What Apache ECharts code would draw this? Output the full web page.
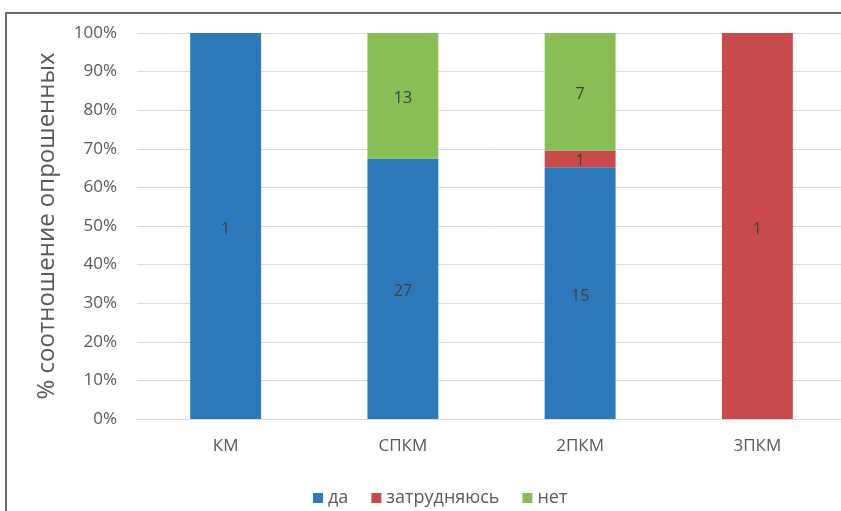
<!DOCTYPE html>
<html>
<head>
<meta charset="utf-8">
<script src="https://cdn.jsdelivr.net/npm/echarts@6/dist/echarts.min.js"></script>
<style>
  html, body { margin: 0; padding: 0; background: #fff; overflow: hidden; }
  #chart { width: 860px; height: 511px; }
</style>
</head>
<body>
<div id="chart"></div>
<script>
// Survey answers per group (respondent counts)
const categories = ['КМ', 'СПКМ', '2ПКМ', '3ПКМ'];
const seriesNames = ['да', 'затрудняюсь', 'нет'];
const countsYes = [1, 27, 15, 0];
const countsUnsure = [0, 0, 1, 1];
const countsNo = [0, 13, 7, 0];
const yTicks = [0, 10, 20, 30, 40, 50, 60, 70, 80, 90, 100];

const colors = ['#2E78BC', '#C84A4A', '#88BE55'];
const allCounts = [countsYes, countsUnsure, countsNo];
const totals = categories.map((_, i) => allCounts.reduce((s, arr) => s + arr[i], 0));

const font = '"Open Sans", "Noto Sans", sans-serif';

const series = seriesNames.map((name, k) => ({
  name,
  type: 'bar',
  stack: 'share',
  barWidth: '40%',
  itemStyle: { color: colors[k] },
  label: {
    show: true,
    position: 'inside',
    offset: [0, 3],
    color: '#404040',
    fontFamily: font,
    fontSize: 16,
    formatter: p => (allCounts[k][p.dataIndex] > 0 ? String(allCounts[k][p.dataIndex]) : '')
  },
  data: allCounts[k].map((c, i) => (c / totals[i]) * 100)
}));

const chart = echarts.init(document.getElementById('chart'), null, { renderer: 'canvas' });
chart.setOption({
  animation: false,
  color: colors,
  textStyle: { fontFamily: font },
  graphic: [{
    type: 'rect',
    shape: { x: 6, y: 13, width: 900, height: 600 },
    style: { fill: 'none', stroke: '#6b6b6b', lineWidth: 2 },
    silent: true
  }],
  grid: { left: 137, width: 709, top: 33, height: 386 },
  legend: {
    top: 484,
    left: 308,
    itemWidth: 10,
    itemHeight: 10,
    itemGap: 23,
    icon: 'rect',
    textStyle: { color: '#595959', fontSize: 18, fontFamily: font }
  },
  xAxis: {
    type: 'category',
    data: categories,
    axisLine: { lineStyle: { color: '#d9d9d9' } },
    axisTick: { show: false },
    axisLabel: { color: '#595959', fontSize: 17, fontFamily: font, margin: 19 }
  },
  yAxis: {
    type: 'value',
    min: yTicks[0],
    max: yTicks[yTicks.length - 1],
    interval: 10,
    name: '% соотношение опрошенных',
    nameLocation: 'middle',
    nameGap: 78,
    nameTextStyle: { color: '#595959', fontSize: 24, fontFamily: font },
    axisLabel: { color: '#595959', fontSize: 17, fontFamily: font, margin: 20, formatter: v => v + '%' },
    splitLine: { lineStyle: { color: '#d9d9d9' } }
  },
  series
});
</script>
</body>
</html>
